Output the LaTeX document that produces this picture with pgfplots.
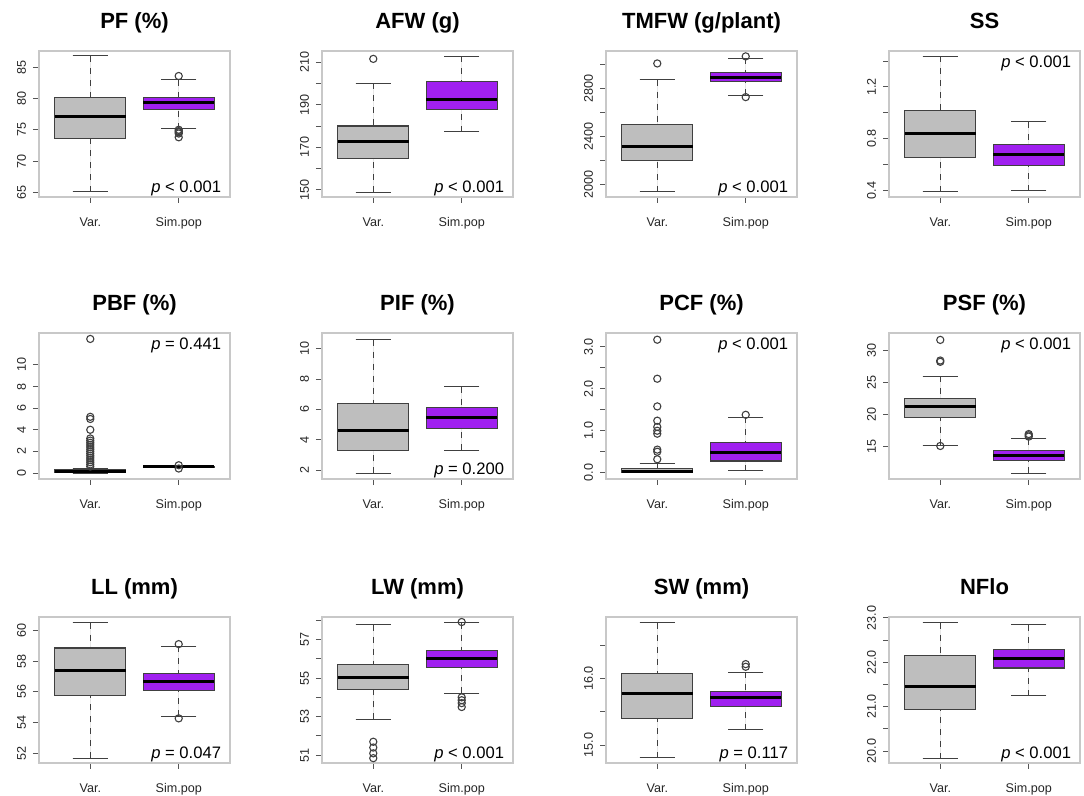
\documentclass[border=0pt]{standalone}
\usepackage{fontspec}
\setmainfont{Liberation Sans}
\usepackage{pgfplots}
\pgfplotsset{compat=1.18}
\usepgfplotslibrary{statistics}

\definecolor{boxgray}{HTML}{BEBEBE}
\definecolor{rpurple}{HTML}{A020F0}
\definecolor{framegray}{HTML}{C8C8C8}
\definecolor{tickgray}{HTML}{555555}

\pgfplotsset{
  panel/.style={
    scale only axis, width=95.5pt, height=73pt,
    xmin=0.42, xmax=2.58,
    xtick={1,2}, xticklabels={Var., Sim.pop},
    tick pos=left, tick align=outside, major tick length=3pt,
    axis line style={framegray, line width=0.6pt},
    tick style={tickgray, line width=0.5pt},
    ticklabel style={font=\fontsize{6.3}{7}\selectfont, text=black!85},
    xticklabel style={yshift=-3.5pt, text height=4.6pt, text depth=1.3pt},
    yticklabel style={rotate=90, anchor=south},
    title style={font=\fontsize{11}{12}\selectfont\bfseries, anchor=base, yshift=5pt},
    clip=false,
  },
  rbox/.style={
    draw=black!75, line width=0.55pt,
    mark=o, mark size=1.8pt, mark options={solid, draw=black!75},
    boxplot/draw direction=y,
    boxplot/box extend=0.8, boxplot/whisker extend=0.4,
    boxplot/every median/.style={line width=1.5pt, black},
  },
  boxplot/draw/lower whisker/.code={
    \draw[dashed, black!75, line width=0.5pt] (boxplot cs:\pgfplotsboxplotvalue{lower whisker}) -- (boxplot cs:\pgfplotsboxplotvalue{lower quartile});
    \draw[solid, black!75, line width=0.5pt] (boxplot whisker cs:\pgfplotsboxplotvalue{lower whisker},0) -- (boxplot whisker cs:\pgfplotsboxplotvalue{lower whisker},1);
  },
  boxplot/draw/upper whisker/.code={
    \draw[dashed, black!75, line width=0.5pt] (boxplot cs:\pgfplotsboxplotvalue{upper whisker}) -- (boxplot cs:\pgfplotsboxplotvalue{upper quartile});
    \draw[solid, black!75, line width=0.5pt] (boxplot whisker cs:\pgfplotsboxplotvalue{upper whisker},0) -- (boxplot whisker cs:\pgfplotsboxplotvalue{upper whisker},1);
  },
}
\newcommand{\pbot}[1]{\node[anchor=base east, font=\fontsize{8.3}{9}\selectfont] at (rel axis cs:0.99,0.03) {#1};}
\newcommand{\ptop}[1]{\node[anchor=base east, font=\fontsize{8.3}{9}\selectfont] at (rel axis cs:0.99,0.89) {#1};}

\begin{document}
\begin{tikzpicture}
\path[use as bounding box] (0,0) rectangle (542pt,-398pt);

% ---------- row 1 ----------
\begin{axis}[panel, at={(19.5pt,-25.5pt)}, anchor=north west, title={PF (\%)},
  ymin=64.25, ymax=87.6, ytick={65,70,75,80,85}, yticklabels={65,70,75,80,85}]
\addplot[rbox, fill=boxgray, boxplot prepared={draw position=1, lower whisker=65.1, lower quartile=73.6, median=77.2, upper quartile=80.2, upper whisker=86.8}] coordinates {};
\addplot[rbox, fill=rpurple, boxplot prepared={draw position=2, lower whisker=75.2, lower quartile=78.2, median=79.3, upper quartile=80.2, upper whisker=83.0}]
  table[row sep=\\, y index=0] {y\\ 83.6\\ 75.0\\ 74.8\\ 74.6\\ 74.4\\ 73.8\\};
\pbot{\textit{p} < 0.001}
\end{axis}

\begin{axis}[panel, at={(161pt,-25.5pt)}, anchor=north west, title={AFW (g)},
  ymin=146.7, ymax=215.2, ytick={150,160,170,180,190,200,210}, yticklabels={150,,170,,190,,210}]
\addplot[rbox, fill=boxgray, boxplot prepared={draw position=1, lower whisker=149, lower quartile=164.8, median=172.6, upper quartile=180, upper whisker=200}]
  table[row sep=\\, y index=0] {y\\ 211.5\\};
\addplot[rbox, fill=rpurple, boxplot prepared={draw position=2, lower whisker=177.2, lower quartile=187.8, median=192.5, upper quartile=200.8, upper whisker=212.7}] coordinates {};
\pbot{\textit{p} < 0.001}
\end{axis}

\begin{axis}[panel, at={(303pt,-25.5pt)}, anchor=north west, title={TMFW (g/plant)},
  ymin=1897, ymax=3116, ytick={2000,2200,2400,2600,2800,3000}, yticklabels={2000,,2400,,2800,}]
\addplot[rbox, fill=boxgray, boxplot prepared={draw position=1, lower whisker=1942, lower quartile=2201, median=2320, upper quartile=2499, upper whisker=2877}]
  table[row sep=\\, y index=0] {y\\ 3012\\};
\addplot[rbox, fill=rpurple, boxplot prepared={draw position=2, lower whisker=2745, lower quartile=2858, median=2897, upper quartile=2935, upper whisker=3054}]
  table[row sep=\\, y index=0] {y\\ 3071\\ 2731\\};
\pbot{\textit{p} < 0.001}
\end{axis}

\begin{axis}[panel, at={(444.5pt,-25.5pt)}, anchor=north west, title={SS},
  ymin=0.348, ymax=1.478, ytick={0.4,0.6,0.8,1.0,1.2,1.4}, yticklabels={0.4,,0.8,,1.2,}]
\addplot[rbox, fill=boxgray, boxplot prepared={draw position=1, lower whisker=0.39, lower quartile=0.656, median=0.84, upper quartile=1.02, upper whisker=1.436}] coordinates {};
\addplot[rbox, fill=rpurple, boxplot prepared={draw position=2, lower whisker=0.397, lower quartile=0.59, median=0.68, upper quartile=0.753, upper whisker=0.93}] coordinates {};
\ptop{\textit{p} < 0.001}
\end{axis}

% ---------- row 2 ----------
\begin{axis}[panel, at={(19.5pt,-166.5pt)}, anchor=north west, title={PBF (\%)},
  ymin=-0.55, ymax=12.95, ytick={0,2,4,6,8,10}, yticklabels={0,2,4,6,8,10}]
\addplot[rbox, fill=boxgray, boxplot prepared={draw position=1, lower whisker=0, lower quartile=0.02, median=0.1, upper quartile=0.28, upper whisker=0.45}]
  table[row sep=\\, y index=0] {y\\ 0.6\\ 0.8\\ 1.0\\ 1.2\\ 1.4\\ 1.6\\ 1.8\\ 2.0\\ 2.2\\ 2.4\\ 2.6\\ 2.8\\ 3.0\\ 3.2\\ 4.0\\ 5.0\\ 5.2\\ 12.4\\};
\addplot[rbox, fill=rpurple, boxplot prepared={draw position=2, lower whisker=0.5, lower quartile=0.53, median=0.56, upper quartile=0.6, upper whisker=0.62}]
  table[row sep=\\, y index=0] {y\\ 0.72\\ 0.42\\};
\ptop{\textit{p} = 0.441}
\end{axis}

\begin{axis}[panel, at={(161pt,-166.5pt)}, anchor=north west, title={PIF (\%)},
  ymin=1.41, ymax=11.05, ytick={2,4,6,8,10}, yticklabels={2,4,6,8,10}]
\addplot[rbox, fill=boxgray, boxplot prepared={draw position=1, lower whisker=1.78, lower quartile=3.32, median=4.61, upper quartile=6.39, upper whisker=10.61}] coordinates {};
\addplot[rbox, fill=rpurple, boxplot prepared={draw position=2, lower whisker=3.32, lower quartile=4.76, median=5.44, upper quartile=6.13, upper whisker=7.5}] coordinates {};
\pbot{\textit{p} = 0.200}
\end{axis}

\begin{axis}[panel, at={(303pt,-166.5pt)}, anchor=north west, title={PCF (\%)},
  ymin=-0.15, ymax=3.33, ytick={0,0.5,1,1.5,2,2.5,3}, yticklabels={0.0,,1.0,,2.0,,3.0}]
\addplot[rbox, fill=boxgray, boxplot prepared={draw position=1, lower whisker=0, lower quartile=0.01, median=0.04, upper quartile=0.1, upper whisker=0.22}]
  table[row sep=\\, y index=0] {y\\ 0.32\\ 0.5\\ 0.55\\ 0.93\\ 1.0\\ 1.09\\ 1.24\\ 1.58\\ 2.24\\ 3.17\\};
\addplot[rbox, fill=rpurple, boxplot prepared={draw position=2, lower whisker=0.05, lower quartile=0.28, median=0.48, upper quartile=0.72, upper whisker=1.32}]
  table[row sep=\\, y index=0] {y\\ 1.38\\};
\ptop{\textit{p} < 0.001}
\end{axis}

\begin{axis}[panel, at={(444.5pt,-166.5pt)}, anchor=north west, title={PSF (\%)},
  ymin=10.03, ymax=32.67, ytick={15,20,25,30}, yticklabels={15,20,25,30}]
\addplot[rbox, fill=boxgray, boxplot prepared={draw position=1, lower whisker=15.3, lower quartile=19.5, median=21.2, upper quartile=22.5, upper whisker=26.0}]
  table[row sep=\\, y index=0] {y\\ 31.6\\ 28.4\\ 28.2\\ 15.15\\};
\addplot[rbox, fill=rpurple, boxplot prepared={draw position=2, lower whisker=10.9, lower quartile=12.85, median=13.6, upper quartile=14.4, upper whisker=16.3}]
  table[row sep=\\, y index=0] {y\\ 16.6\\ 16.8\\ 17.0\\};
\ptop{\textit{p} < 0.001}
\end{axis}

% ---------- row 3 ----------
\begin{axis}[panel, at={(19.5pt,-308.5pt)}, anchor=north west, title={LL (mm)},
  ymin=51.35, ymax=60.87, ytick={52,54,56,58,60}, yticklabels={52,54,56,58,60}]
\addplot[rbox, fill=boxgray, boxplot prepared={draw position=1, lower whisker=51.67, lower quartile=55.74, median=57.4, upper quartile=58.85, upper whisker=60.5}] coordinates {};
\addplot[rbox, fill=rpurple, boxplot prepared={draw position=2, lower whisker=54.4, lower quartile=56.1, median=56.65, upper quartile=57.2, upper whisker=58.95}]
  table[row sep=\\, y index=0] {y\\ 59.1\\ 54.26\\};
\pbot{\textit{p} = 0.047}
\end{axis}

\begin{axis}[panel, at={(161pt,-308.5pt)}, anchor=north west, title={LW (mm)},
  ymin=50.6, ymax=58.16, ytick={51,52,53,54,55,56,57,58}, yticklabels={51,,53,,55,,57,}]
\addplot[rbox, fill=boxgray, boxplot prepared={draw position=1, lower whisker=52.86, lower quartile=54.4, median=55.02, upper quartile=55.7, upper whisker=57.76}]
  table[row sep=\\, y index=0] {y\\ 51.7\\ 51.4\\ 51.1\\ 50.85\\};
\addplot[rbox, fill=rpurple, boxplot prepared={draw position=2, lower whisker=54.2, lower quartile=55.53, median=56.0, upper quartile=56.43, upper whisker=57.85}]
  table[row sep=\\, y index=0] {y\\ 57.9\\ 54.0\\ 53.85\\ 53.7\\ 53.5\\};
\pbot{\textit{p} < 0.001}
\end{axis}

\begin{axis}[panel, at={(303pt,-308.5pt)}, anchor=north west, title={SW (mm)},
  ymin=14.73, ymax=16.93, ytick={15,15.5,16,16.5}, yticklabels={15.0,,16.0,}]
\addplot[rbox, fill=boxgray, boxplot prepared={draw position=1, lower whisker=14.81, lower quartile=15.4, median=15.78, upper quartile=16.08, upper whisker=16.84}] coordinates {};
\addplot[rbox, fill=rpurple, boxplot prepared={draw position=2, lower whisker=15.23, lower quartile=15.58, median=15.71, upper quartile=15.81, upper whisker=16.1}]
  table[row sep=\\, y index=0] {y\\ 16.22\\ 16.18\\};
\pbot{\textit{p} = 0.117}
\end{axis}

\begin{axis}[panel, at={(444.5pt,-308.5pt)}, anchor=north west, title={NFlo},
  ymin=19.73, ymax=23.02, ytick={20,20.5,21,21.5,22,22.5,23}, yticklabels={20.0,,21.0,,22.0,,23.0}]
\addplot[rbox, fill=boxgray, boxplot prepared={draw position=1, lower whisker=19.83, lower quartile=20.93, median=21.45, upper quartile=22.15, upper whisker=22.89}] coordinates {};
\addplot[rbox, fill=rpurple, boxplot prepared={draw position=2, lower whisker=21.24, lower quartile=21.87, median=22.09, upper quartile=22.29, upper whisker=22.84}] coordinates {};
\pbot{\textit{p} < 0.001}
\end{axis}
\end{tikzpicture}
\end{document}
